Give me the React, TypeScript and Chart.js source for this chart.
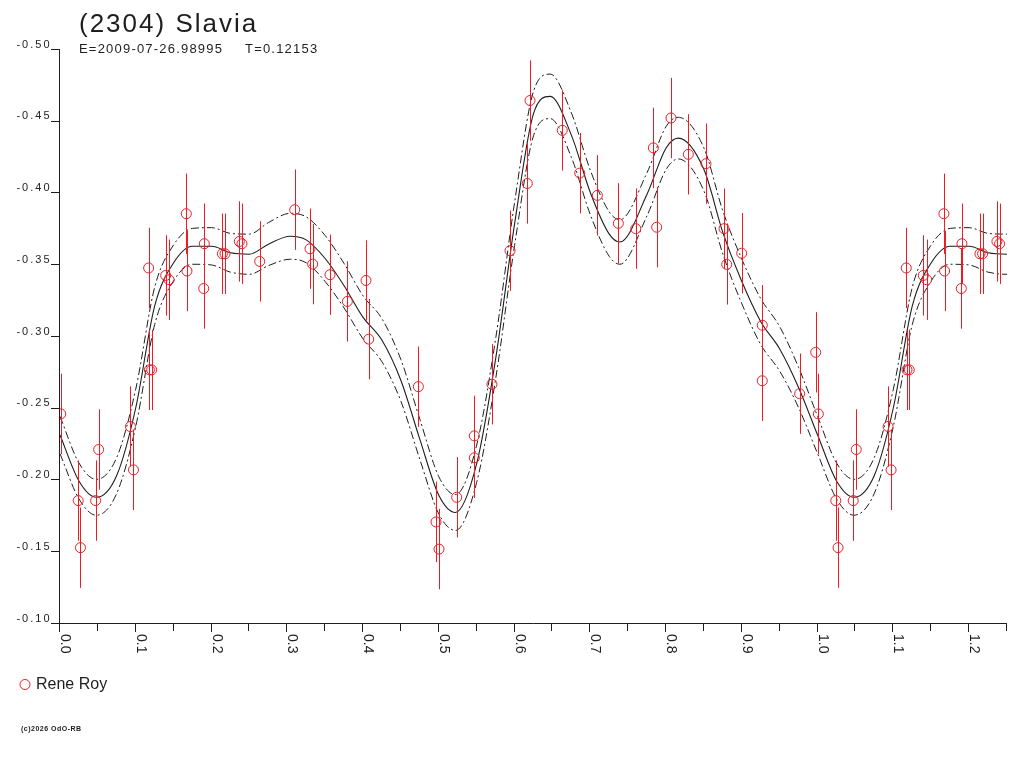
import { useEffect, useRef } from 'react';
import { Chart, registerables } from 'chart.js';

Chart.register(...registerables);

// observations, Rene Roy (phase, reduced magnitude)
const obsPhase = [
  0.001, 0.024, 0.027, 0.047, 0.051, 0.093, 0.097, 0.117, 0.118, 0.121,
  0.1395, 0.144, 0.1667, 0.1676, 0.1897, 0.1905, 0.2143, 0.2178, 0.2367, 0.2402,
  0.2636, 0.3098, 0.33, 0.3335, 0.3564, 0.3793, 0.4039, 0.4075, 0.473, 0.4963,
  0.5003, 0.5236, 0.5469, 0.5469, 0.5702, 0.594, 0.6168, 0.6204, 0.663, 0.686,
  0.7093, 0.737, 0.76, 0.7876, 0.7832, 0.8065, 0.8294, 0.8527, 0.8765, 0.88,
  0.8998, 0.927, 0.927, 0.9763, 0.9975,
];
const obsMag = [
  -0.2457, -0.1853, -0.1525, -0.1853, -0.2209, -0.2369, -0.2067, -0.3474, -0.2764, -0.2764,
  -0.3422, -0.3392, -0.3852, -0.3453, -0.3331, -0.3643, -0.3573, -0.3573, -0.3659, -0.3643,
  -0.352, -0.388, -0.3608, -0.3501, -0.3427, -0.3241, -0.3387, -0.2978, -0.2647, -0.1704,
  -0.1515, -0.1876, -0.2304, -0.2151, -0.2664, -0.3594, -0.4063, -0.4641, -0.4433, -0.4135,
  -0.398, -0.3785, -0.3748, -0.3758, -0.4311, -0.4519, -0.4266, -0.4201, -0.3748, -0.3499,
  -0.3577, -0.3075, -0.2688, -0.2598, -0.2886,
];
const obsErr = 0.028;

// fitted curve and its envelope, one period
const fitPhase = [
  0, 0.025, 0.048, 0.075, 0.1, 0.125, 0.15, 0.175, 0.2, 0.225,
  0.25, 0.275, 0.304, 0.325, 0.35, 0.375, 0.4, 0.425, 0.45, 0.475,
  0.5, 0.522, 0.55, 0.575, 0.6, 0.625, 0.647, 0.675, 0.7, 0.725,
  0.739, 0.775, 0.8, 0.816, 0.85, 0.875, 0.9, 0.925, 0.95, 0.975, 1.0,
];
const fitMag = [
  -0.231, -0.199, -0.1876, -0.203, -0.25, -0.321, -0.351, -0.3625, -0.3625, -0.358,
  -0.357, -0.364, -0.3695, -0.367, -0.354, -0.335, -0.313, -0.297, -0.269, -0.228,
  -0.189, -0.177, -0.211, -0.284, -0.378, -0.455, -0.467, -0.44, -0.4, -0.371,
  -0.3655, -0.399, -0.431, -0.4379, -0.416, -0.372, -0.338, -0.31, -0.291, -0.264, -0.231,
];
const fitUpper = [
  -0.244, -0.2115, -0.2001, -0.2155, -0.263, -0.334, -0.3635, -0.375, -0.3755, -0.3715,
  -0.371, -0.379, -0.3855, -0.383, -0.37, -0.3505, -0.328, -0.312, -0.2835, -0.242,
  -0.202, -0.1895, -0.224, -0.298, -0.393, -0.4705, -0.4825, -0.4555, -0.4155, -0.3865,
  -0.381, -0.414, -0.446, -0.4524, -0.431, -0.387, -0.3535, -0.326, -0.3065, -0.278, -0.244,
];
const fitLower = [
  -0.218, -0.1865, -0.1751, -0.1905, -0.237, -0.308, -0.3385, -0.35, -0.3495, -0.3445,
  -0.343, -0.349, -0.3535, -0.351, -0.338, -0.3195, -0.298, -0.282, -0.2545, -0.214,
  -0.176, -0.1645, -0.198, -0.27, -0.363, -0.4395, -0.4515, -0.4245, -0.3845, -0.3555,
  -0.35, -0.384, -0.416, -0.4234, -0.401, -0.357, -0.3225, -0.294, -0.2755, -0.25, -0.218,
];

const xMajor = [0, 0.1, 0.2, 0.3, 0.4, 0.5, 0.6, 0.7, 0.8, 0.9, 1.0, 1.1, 1.2];
const xLabels = ['0.0', '0.1', '0.2', '0.3', '0.4', '0.5', '0.6', '0.7', '0.8', '0.9', '1.0', '1.1', '1.2'];
const xMinor = [0.05, 0.15, 0.25, 0.35, 0.45, 0.55, 0.65, 0.75, 0.85, 0.95, 1.05, 1.15, 1.25];
const yTicks = [-0.5, -0.45, -0.4, -0.35, -0.3, -0.25, -0.2, -0.15, -0.1];
const yLabels = ['-0.50', '-0.45', '-0.40', '-0.35', '-0.30', '-0.25', '-0.20', '-0.15', '-0.10'];

const X_MAX = 1.25;
const RED = '#ec1c24';
const INK = '#1e1e1e';
const FONT = '"Liberation Sans", Arial, sans-serif';

// one period plus its repeat past phase 1, as far as the axis reaches
function wrap(ph: number[], mag: number[], reach: number) {
  const pts = ph.map((x, i) => ({ x, y: mag[i] }));
  ph.forEach((x, i) => {
    if (x > 0 && x + 1 <= reach) pts.push({ x: x + 1, y: mag[i] });
  });
  return pts;
}

function label(ctx: CanvasRenderingContext2D, s: string, x: number, y: number, font: string, spacing: number, align: CanvasTextAlign = 'left') {
  ctx.save();
  ctx.font = font;
  (ctx as any).letterSpacing = spacing + 'px';
  ctx.textAlign = align;
  ctx.textBaseline = 'alphabetic';
  ctx.fillStyle = INK;
  ctx.fillText(s, align === 'right' ? x + spacing : x, y);
  ctx.restore();
}

const lightCurvePlugin = {
  id: 'lightCurve',
  beforeDatasetDraw(chart: any, args: any) {
    if (args.index !== 0) return;
    const { ctx, chartArea, scales } = chart;
    const pts = chart.data.datasets[0].data as { x: number; y: number }[];
    ctx.save();
    ctx.beginPath();
    ctx.rect(chartArea.left, chartArea.top, chartArea.right - chartArea.left, chartArea.bottom - chartArea.top);
    ctx.clip();
    ctx.strokeStyle = RED;
    ctx.lineWidth = 1;
    ctx.beginPath();
    pts.forEach((p) => {
      const px = Math.round(scales.x.getPixelForValue(p.x)) + 0.5;
      ctx.moveTo(px, scales.y.getPixelForValue(p.y - obsErr));
      ctx.lineTo(px, scales.y.getPixelForValue(p.y + obsErr));
    });
    ctx.stroke();
    ctx.restore();
  },
  afterDraw(chart: any) {
    const { ctx, chartArea, scales } = chart;
    const { left, right, top, bottom } = chartArea;
    ctx.save();
    ctx.strokeStyle = INK;
    ctx.lineWidth = 1;
    ctx.beginPath();
    ctx.moveTo(left - 0.5, top);
    ctx.lineTo(left - 0.5, bottom + 0.5);
    ctx.lineTo(right, bottom + 0.5);
    yTicks.forEach((v) => {
      const py = Math.round(scales.y.getPixelForValue(v)) + 0.5;
      ctx.moveTo(left - 9, py);
      ctx.lineTo(left, py);
    });
    xMajor.forEach((v) => {
      const px = Math.round(scales.x.getPixelForValue(v)) - 0.5;
      ctx.moveTo(px, bottom);
      ctx.lineTo(px, bottom + 9);
    });
    xMinor.forEach((v) => {
      const px = Math.round(scales.x.getPixelForValue(v)) - 0.5;
      ctx.moveTo(px, bottom);
      ctx.lineTo(px, bottom + 8);
    });
    ctx.stroke();
    ctx.restore();

    yTicks.forEach((v, i) => {
      const py = scales.y.getPixelForValue(v);
      label(ctx, yLabels[i], left - 10.5, py - 1.5, '11px ' + FONT, 2, 'right');
    });
    xMajor.forEach((v, i) => {
      const px = scales.x.getPixelForValue(v);
      ctx.save();
      ctx.translate(px + 1, bottom + 11);
      ctx.rotate(Math.PI / 2);
      label(ctx, xLabels[i], 0, 0, '14px ' + FONT, 0);
      ctx.restore();
    });

    label(ctx, '(2304) Slavia', 79, 32, '26px ' + FONT, 2);
    label(ctx, 'E=2009-07-26.98995', 79, 53, '13px ' + FONT, 1.2);
    label(ctx, 'T=0.12153', 245, 53, '13px ' + FONT, 1.2);

    ctx.save();
    ctx.strokeStyle = RED;
    ctx.lineWidth = 1;
    ctx.beginPath();
    ctx.arc(25, 684.5, 5, 0, Math.PI * 2);
    ctx.stroke();
    ctx.restore();
    label(ctx, 'Rene Roy', 36, 689, '16px ' + FONT, 0);
    label(ctx, '(c)2026 OdO-RB', 21, 731, 'bold 7px ' + FONT, 0.5);
  },
};

export default function App() {
  const chartRef = useRef<HTMLCanvasElement>(null);
  const chartInstance = useRef<Chart | null>(null);

  useEffect(() => {
    if (!chartRef.current) return;
    if (chartInstance.current) chartInstance.current.destroy();

    const curve = (mag: number[], dashed: boolean) => ({
      data: wrap(fitPhase, mag, X_MAX + 0.06),
      showLine: true,
      pointRadius: 0,
      borderColor: INK,
      borderWidth: dashed ? 1 : 1.1,
      borderDash: dashed ? [8, 3, 2, 3] : [],
      cubicInterpolationMode: 'monotone' as const,
      fill: false,
    });

    chartInstance.current = new Chart(chartRef.current, {
      type: 'scatter',
      data: {
        datasets: [
          {
            label: 'Rene Roy',
            data: wrap(obsPhase, obsMag, X_MAX),
            pointStyle: 'circle',
            pointRadius: 5,
            pointBorderWidth: 1,
            pointBorderColor: RED,
            pointBackgroundColor: 'rgba(0,0,0,0)',
            showLine: false,
          },
          curve(fitMag, false),
          curve(fitUpper, true),
          curve(fitLower, true),
        ],
      },
      options: {
        animation: false,
        responsive: false,
        layout: { padding: { left: 60, top: 49, right: 17, bottom: 145 } },
        plugins: { legend: { display: false }, tooltip: { enabled: false } },
        scales: {
          x: { type: 'linear', min: 0, max: X_MAX, display: false },
          y: { type: 'linear', min: -0.5, max: -0.1, reverse: true, display: false },
        },
      },
      plugins: [lightCurvePlugin],
    });

    return () => {
      if (chartInstance.current) {
        chartInstance.current.destroy();
        chartInstance.current = null;
      }
    };
  }, []);

  return (
    <div style={{ position: 'absolute', left: 0, top: 0, width: 1024, height: 768, background: '#fff' }}>
      <canvas ref={chartRef} width={1024} height={768} />
    </div>
  );
}
